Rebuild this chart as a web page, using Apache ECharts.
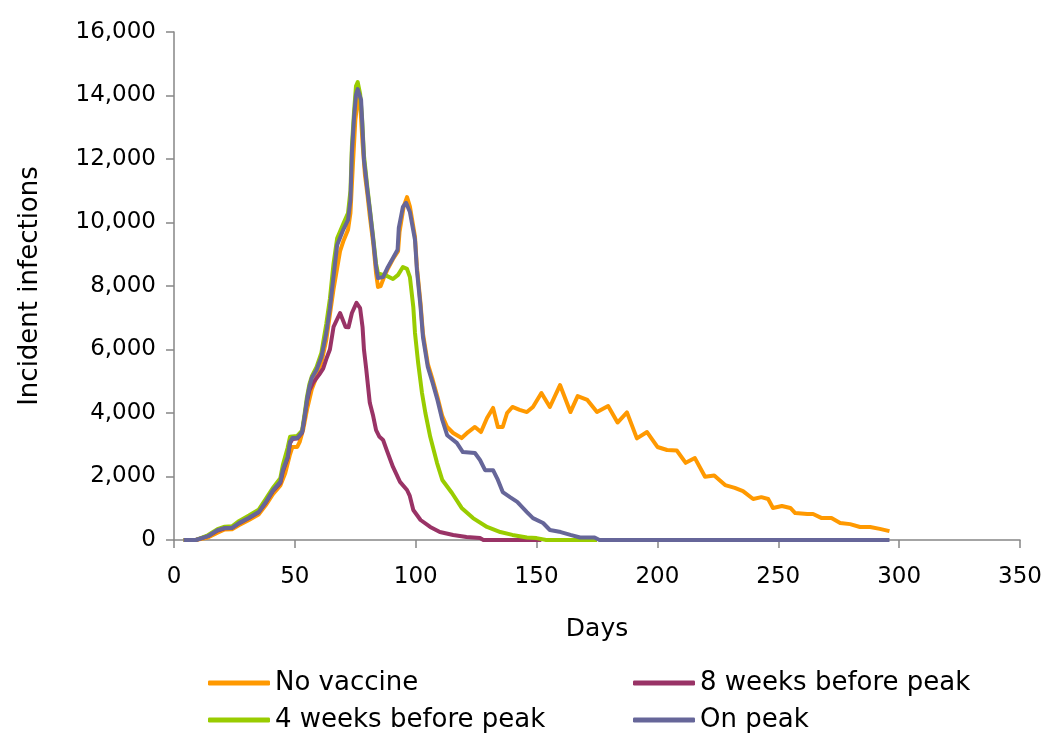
<!DOCTYPE html>
<html>
<head>
<meta charset="utf-8">
<script src="https://cdn.jsdelivr.net/npm/echarts@6/dist/echarts.min.js"></script>
<style>
  html, body { margin: 0; padding: 0; background: #fff; }
  #chart { width: 1050px; height: 755px; }
</style>
</head>
<body>
<div id="chart"></div>
<script>
// [day, incident infections]
const noVaccine = [
  [4,0],[9,0],[14,80],[18,230],[21,330],[24,340],[27,470],[31,630],[35,800],[38,1100],
  [41,1450],[44,1720],[46,2100],[48,2700],[49,2930],[51,2930],[52,3090],[53.5,3500],[55,4100],[57,4750],
  [59,5150],[61,5600],[63,6300],[64.5,7100],[66,7900],[68.7,9100],[70,9400],[72,9770],[73,10300],[74,11800],
  [75,13200],[76,13900],[77,13800],[78,12500],[79,11500],[80,10900],[81,10200],[82.5,9300],[83.6,8400],[84.4,7970],
  [85.5,8000],[87,8300],[88.5,8550],[90.6,8850],[92.7,9100],[93.3,9700],[95,10500],[96.4,10800],[97.6,10500],[99.7,9550],
  [100.5,8600],[102,7450],[103,6500],[105,5550],[107,5050],[109,4500],[111,3900],[113,3560],[115.5,3370],[119,3210],
  [121.7,3400],[124.5,3560],[127,3400],[129.5,3840],[132,4160],[134,3560],[136,3560],[137.8,4000],[140,4190],[143,4100],
  [146,4030],[148.5,4190],[152,4630],[155.5,4190],[159.7,4880],[164,4030],[167,4530],[171,4410],[175,4030],[179.6,4220],
  [183.5,3700],[187.4,4020],[191.5,3200],[195.7,3400],[200,2930],[204,2835],[208,2820],[211.7,2430],[215.5,2580],[219.7,1990],
  [223.5,2030],[228,1730],[232,1640],[235.4,1540],[239.6,1290],[243,1350],[245.8,1290],[247.8,1010],[251.5,1070],[255,1010],
  [257,850],[262,820],[264.4,820],[268,690],[272,690],[275.6,535],[279.7,500],[283.8,410],[288,410],[292,350],
  [296,280]
];

const weeks8Before = [
  [4,0],[9,0],[14,120],[18,300],[21,370],[24,380],[27,530],[31,690],[35,870],[38,1180],
  [41,1550],[44,1800],[45,2150],[47,2580],[48,3050],[49,3180],[51,3200],[53,3380],[54,3850],[55,4350],
  [56,4700],[57.5,4950],[60,5200],[61.7,5400],[63,5700],[64.5,6000],[66,6710],[68.7,7150],[71,6710],[72.2,6700],
  [73.6,7150],[75.5,7470],[77,7300],[78,6710],[78.6,5990],[79.5,5400],[81,4320],[82.3,3940],[83.6,3460],[85,3250],
  [86.5,3150],[88,2830],[90.6,2300],[93.5,1830],[96.4,1575],[97.5,1400],[99,945],[102,630],[106,410],[110,250],
  [115.5,160],[121,95],[126.6,60],[128,0],[152,0]
];

const weeks4Before = [
  [4,0],[9,0],[14,150],[18,340],[21,420],[24,430],[27,600],[31,770],[35,950],[38,1300],
  [41,1650],[44,1950],[45,2350],[47,2900],[48,3250],[51,3280],[53,3450],[54,3950],[55,4500],[56,4900],
  [57,5150],[59,5450],[61,5900],[63,6800],[64.5,7600],[66,8700],[67.5,9500],[70,9950],[72,10300],[73,11000],
  [73.6,12400],[74.5,13500],[75.3,14300],[76,14420],[77,14050],[77.8,13300],[78.6,12100],[80,11100],[81,10450],[82.3,9600],
  [83.6,8700],[84.4,8400],[88,8320],[90.6,8220],[92.7,8350],[94.7,8600],[96.4,8540],[97.6,8280],[99,7340],[99.7,6520],
  [101,5580],[102.6,4630],[104,4000],[106,3250],[108.8,2430],[111,1890],[115,1480],[119,1010],[123.7,690],[129.5,410],
  [135,250],[140,160],[146,80],[150,60],[154,0],[175,0]
];

const onPeak = [
  [4,0],[9,0],[14,120],[18,310],[21,380],[24,380],[27,540],[31,700],[35,880],[38,1200],
  [41,1570],[44,1830],[45,2200],[47,2610],[48,3090],[49,3210],[51,3210],[53,3400],[54,3880],[55,4410],
  [56,4820],[57,5100],[59,5360],[61,5770],[63,6520],[64.5,7300],[66,8300],[67.5,9290],[70,9770],[72,10080],
  [73,10710],[73.6,12190],[74.5,13320],[75.3,14020],[76,14200],[77.4,13860],[77.8,13230],[78.6,11970],[80,11020],[81,10400],
  [82.3,9540],[83.6,8600],[84.4,8250],[86.5,8280],[88.5,8600],[90.6,8880],[92.5,9140],[93,9830],[94.7,10490],[96,10620],
  [97.6,10330],[99.7,9450],[100.5,8500],[102,7340],[103,6390],[105,5450],[107,4950],[109,4410],[111,3780],[113,3300],
  [117,3060],[119.5,2770],[124.5,2740],[126.6,2520],[128.7,2200],[132,2200],[134,1890],[136,1510],[139,1350],[142,1200],
  [146,880],[148.5,690],[152.7,535],[155.5,315],[160,250],[164,160],[168,80],[174,80],[176,0],[296,0]
];

const seriesNames = ['No vaccine', '8 weeks before peak', '4 weeks before peak', 'On peak'];
const seriesColors = ['#FF9900', '#993366', '#99CC00', '#666699'];
const seriesData = [noVaccine, weeks8Before, weeks4Before, onPeak];

const font = 'DejaVu Sans';
const axisGrey = '#868686';

const chart = echarts.init(document.getElementById('chart'));

const legendBase = {
  orient: 'vertical',
  top: 670,
  padding: 0,
  itemWidth: 62,
  itemHeight: 5,
  itemGap: 11,
  icon: 'roundRect',
  textStyle: { fontSize: 26, fontFamily: font, color: '#000' }
};

chart.setOption({
  animation: false,
  backgroundColor: '#fff',
  grid: { left: 174, right: 30, top: 32, bottom: 215, outerBoundsMode: 'none' },
  legend: [
    Object.assign({ left: 208, data: [seriesNames[0], seriesNames[2]] }, legendBase),
    Object.assign({ left: 633, data: [seriesNames[1], seriesNames[3]] }, legendBase)
  ],
  xAxis: {
    type: 'value',
    min: 0, max: 350, interval: 50,
    name: 'Days',
    nameLocation: 'middle',
    nameGap: 77,
    nameTextStyle: { fontSize: 25, fontFamily: font, color: '#000' },
    axisLine: { show: true, lineStyle: { color: axisGrey, width: 1.5 } },
    axisTick: { show: true, length: 8, lineStyle: { color: axisGrey, width: 1.5 } },
    axisLabel: { fontSize: 23, fontFamily: font, color: '#000', margin: 26 },
    splitLine: { show: false }
  },
  yAxis: {
    type: 'value',
    min: 0, max: 16000, interval: 2000,
    name: 'Incident infections',
    nameLocation: 'middle',
    nameRotate: 90,
    nameGap: 131,
    nameTextStyle: { fontSize: 26, fontFamily: font, color: '#000' },
    axisLine: { show: true, lineStyle: { color: axisGrey, width: 1.5 } },
    axisTick: { show: true, length: 8, lineStyle: { color: axisGrey, width: 1.5 } },
    axisLabel: {
      fontSize: 23, fontFamily: font, color: '#000', margin: 18,
      formatter: v => v.toLocaleString('en-US')
    },
    splitLine: { show: false }
  },
  series: seriesNames.map((name, i) => ({
    name: name,
    type: 'line',
    data: seriesData[i],
    showSymbol: false,
    symbol: 'none',
    color: seriesColors[i],
    lineStyle: { width: 4, color: seriesColors[i], join: 'round' },
    z: 2 + i
  }))
});
</script>
</body>
</html>
